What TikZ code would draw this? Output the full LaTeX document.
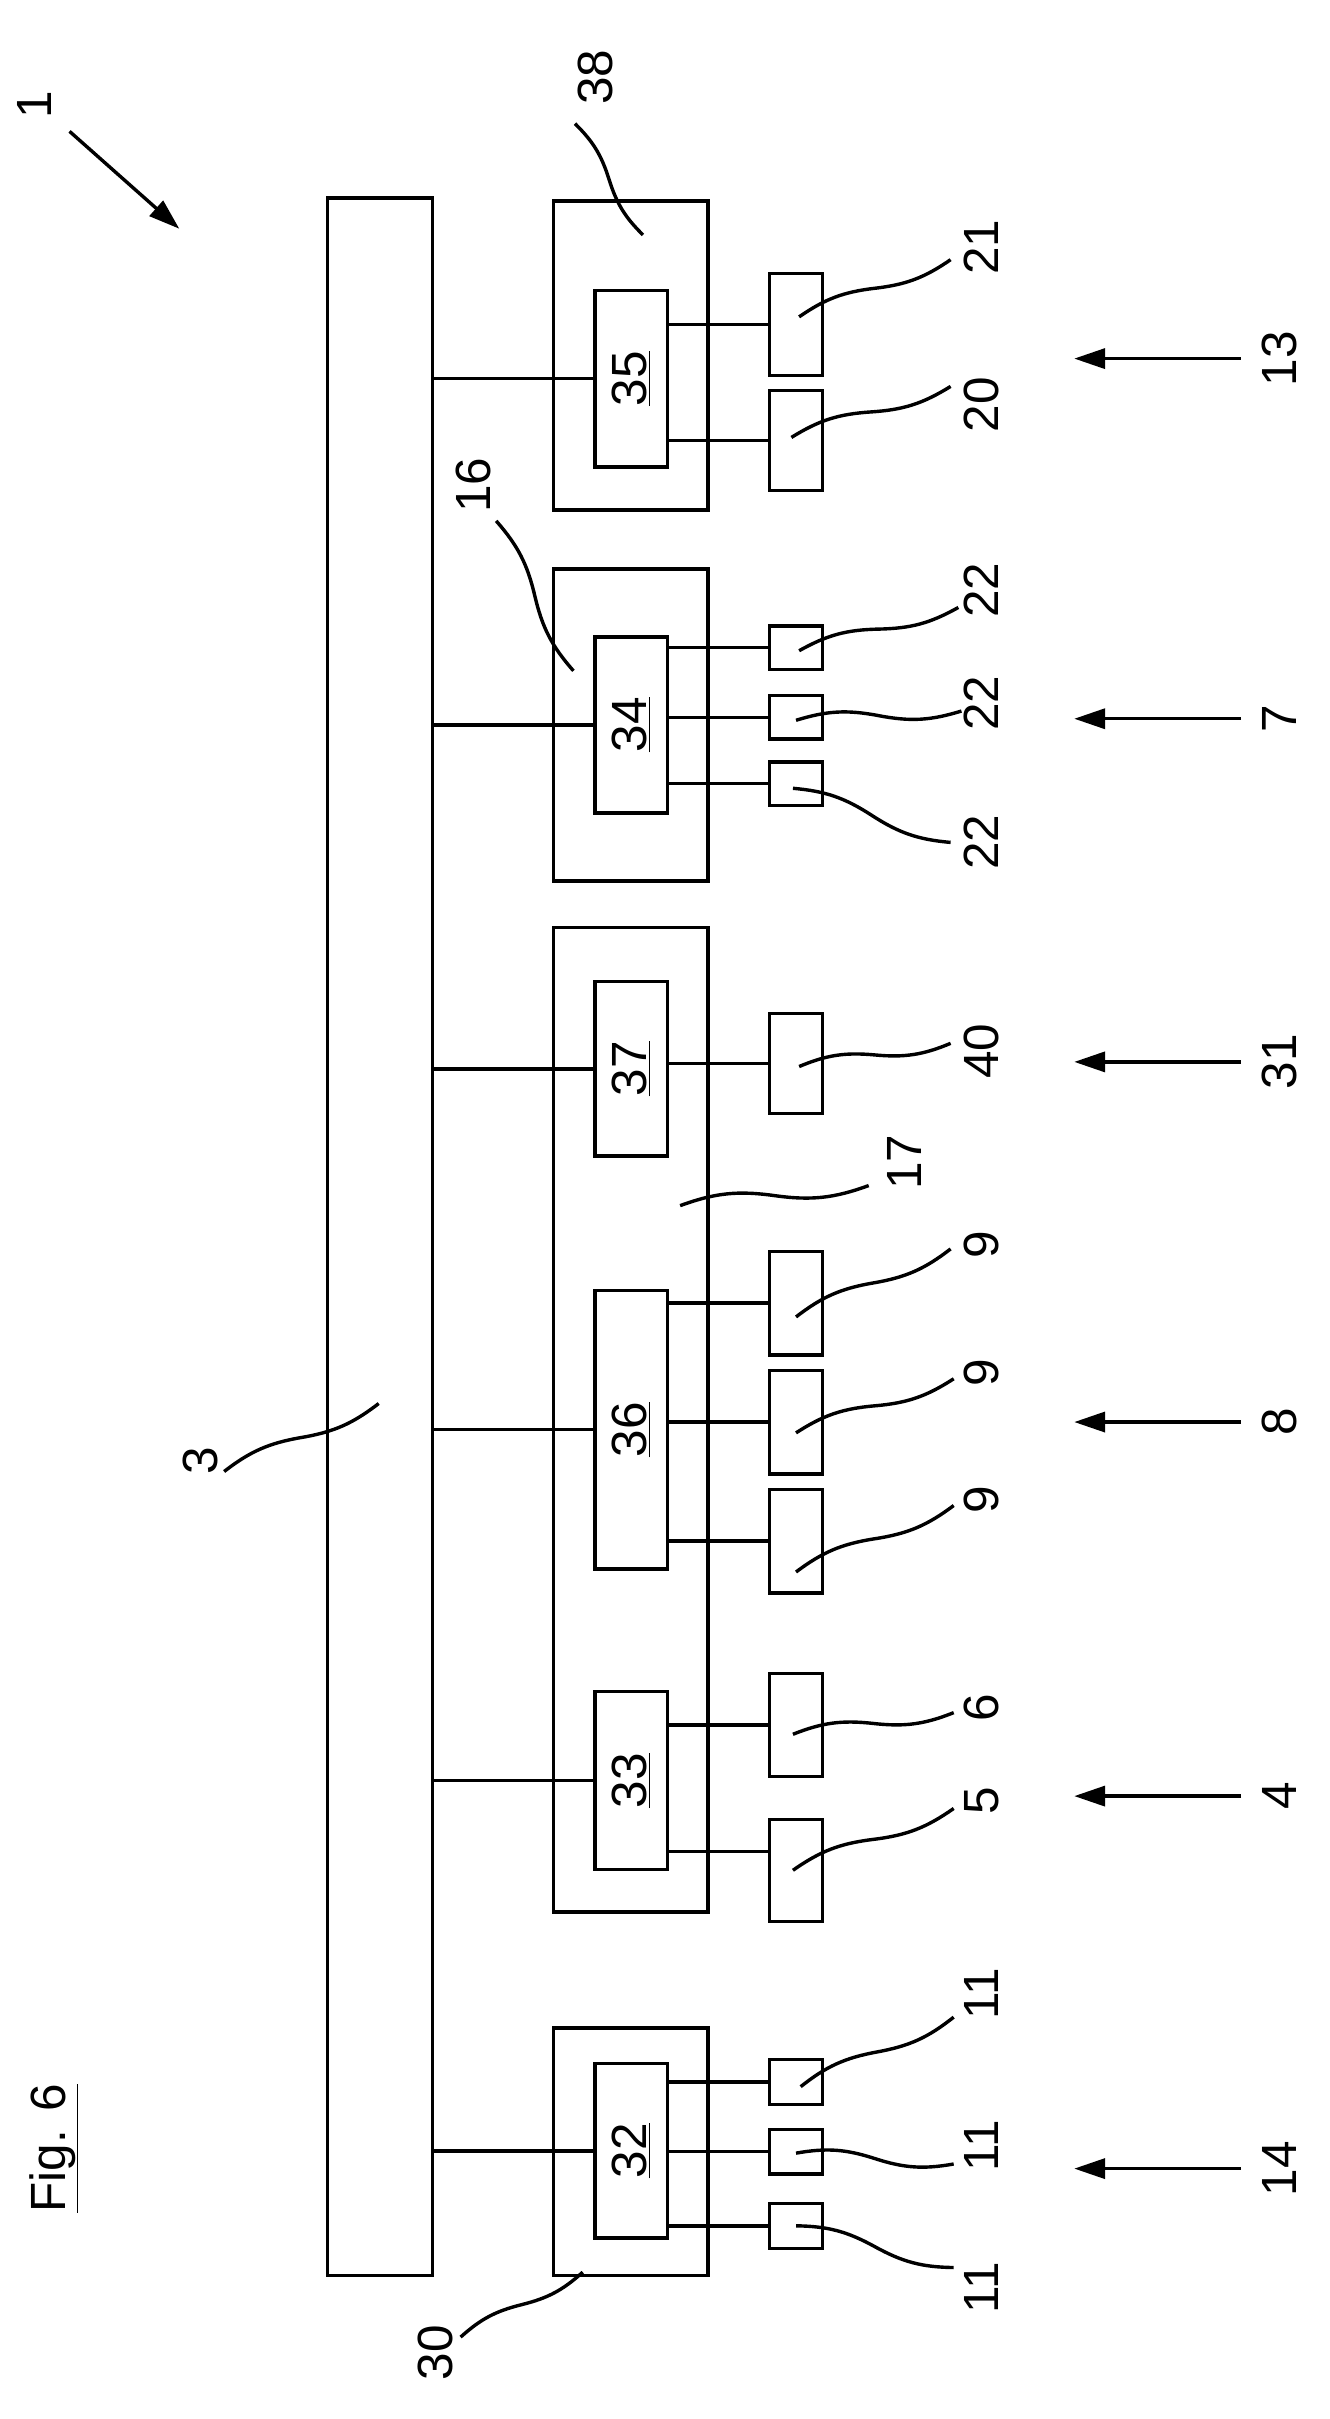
\documentclass[tikz,border=0pt]{standalone}
\usepackage{fontspec}
\setmainfont{Liberation Sans}
\usetikzlibrary{arrows.meta}

\tikzset{
  box/.style={draw,line width=2.2pt,inner sep=0pt},
  lbl/.style={rotate=90,font=\fontsize{32}{38}\selectfont,inner sep=1pt},
  lead/.style={line width=2.2pt},
  arr/.style={line width=2.2pt,-{Triangle[length=20pt,width=13pt]}},
}
% leader with a small wiggle
\newcommand{\wig}[2]{\draw[lead] (#1) to[bend left=14] ($(#1)!0.5!(#2)$) to[bend right=14] (#2);}
\usetikzlibrary{calc}

\begin{document}
\begin{tikzpicture}[x=1pt,y=-1pt,line width=2.2pt]
 \useasboundingbox (0,0) rectangle (860,1565);
 % bus
 \node[box,minimum width=68,minimum height=1344] (bus) at (246,800) {};
 % modules
 \node[box,minimum width=100,minimum height=200] (m38) at (408,230) {};
 \node[box,minimum width=100,minimum height=202] (m16) at (408,469) {};
 \node[box,minimum width=100,minimum height=637] (m17) at (408,918.5) {};
 \node[box,minimum width=100,minimum height=160] (m30) at (408,1392) {};
 % controllers
 \node[box,minimum width=47,minimum height=114] (n35) at (408.5,245) {\rotatebox{90}{\fontsize{32}{38}\selectfont\underline{35}}};
 \node[box,minimum width=47,minimum height=114] (n34) at (408.5,469) {\rotatebox{90}{\fontsize{32}{38}\selectfont\underline{34}}};
 \node[box,minimum width=47,minimum height=113] (n37) at (408.5,691.5) {\rotatebox{90}{\fontsize{32}{38}\selectfont\underline{37}}};
 \node[box,minimum width=47,minimum height=180] (n36) at (408.5,925) {\rotatebox{90}{\fontsize{32}{38}\selectfont\underline{36}}};
 \node[box,minimum width=47,minimum height=115] (n33) at (408.5,1152) {\rotatebox{90}{\fontsize{32}{38}\selectfont\underline{33}}};
 \node[box,minimum width=47,minimum height=113] (n32) at (408.5,1391.5) {\rotatebox{90}{\fontsize{32}{38}\selectfont\underline{32}}};
 % devices
 \node[box,minimum width=34,minimum height=66] (b21) at (515,210) {};
 \node[box,minimum width=34,minimum height=65] (b20) at (515,285) {};
 \node[box,minimum width=34,minimum height=28] (b22a) at (515,419) {};
 \node[box,minimum width=34,minimum height=28] (b22b) at (515,464) {};
 \node[box,minimum width=34,minimum height=28] (b22c) at (515,507) {};
 \node[box,minimum width=34,minimum height=65] (b40) at (515,688) {};
 \node[box,minimum width=34,minimum height=67] (b9a) at (515,843) {};
 \node[box,minimum width=34,minimum height=67] (b9b) at (515,920) {};
 \node[box,minimum width=34,minimum height=67] (b9c) at (515,997) {};
 \node[box,minimum width=34,minimum height=67] (b6) at (515,1116) {};
 \node[box,minimum width=34,minimum height=66] (b5) at (515,1210) {};
 \node[box,minimum width=34,minimum height=29] (b11a) at (515,1347) {};
 \node[box,minimum width=34,minimum height=29] (b11b) at (515,1392) {};
 \node[box,minimum width=34,minimum height=29] (b11c) at (515,1440) {};
 % bus lines
 \foreach \n in {n35,n34,n37,n36,n33,n32}
   \draw (bus.east |- \n.west) -- (\n.west);
 % device lines
 \foreach \n/\b in {n35/b21,n35/b20,n34/b22a,n34/b22b,n34/b22c,n37/b40,n36/b9a,n36/b9b,n36/b9c,n33/b6,n32/b11a,n32/b11b,n32/b11c}
   \draw (\n.east |- \b.west) -- (\b.west);
 \coordinate (c5) at ($(n33.east)+(0,46)$);
 \draw (c5) -- (c5 -| b5.west);
 % reference numerals
 \node[lbl] (l1) at (22,68) {1};
 \coordinate (a1) at (45,85); \coordinate (e1) at (116,148);
 \draw[arr] (a1) -- (e1);
 \node[lbl] (l38) at (385,50) {38};  \wig{416,152}{372,80}
 \node[lbl] (l16) at (306,314) {16};  \wig{371,434}{321,337}
 \node[lbl] (l3) at (130,945) {3};    \wig{245,908}{145,952}
 \node[lbl] (l17) at (585,752) {17};  \wig{440,780}{562,767}
 \node[lbl] (l30) at (282,1522) {30}; \wig{377,1470}{298,1512}
 \node[lbl] (l21) at (635,160) {21};  \wig{517,205}{615,168}
 \node[lbl] (l20) at (635,262) {20};  \wig{512,283}{615,250}
 \node[lbl] (l22a) at (635,382) {22}; \wig{517,421}{620,393}
 \node[lbl] (l22b) at (635,455) {22}; \wig{515,466}{622,460}
 \node[lbl] (l22c) at (635,545) {22}; \wig{513,510}{615,545}
 \node[lbl] (l40) at (635,680) {40};  \wig{517,690}{615,675}
 \node[lbl] (l9a) at (635,805) {9};   \wig{515,852}{615,808}
 \node[lbl] (l9b) at (635,888) {9};   \wig{515,927}{617,892}
 \node[lbl] (l9c) at (635,970) {9};   \wig{515,1017}{617,974}
 \node[lbl] (l6) at (635,1105) {6};   \wig{513,1122}{617,1108}
 \node[lbl] (l5) at (635,1165) {5};   \wig{513,1210}{617,1170}
 \node[lbl] (l11a) at (635,1290) {11}; \wig{518,1350}{617,1305}
 \node[lbl] (l11b) at (635,1388) {11}; \wig{515,1393}{617,1400}
 \node[lbl] (l11c) at (635,1480) {11}; \wig{515,1440}{617,1467}
 % group arrows
 \foreach \t/\y in {13/232,7/465,31/687,8/920,4/1162,14/1403}{
   \node[lbl] (g\t) at (828,\y) {\t};
   \draw[arr] (g\t.north) ++(-12,0) coordinate (s\t) -- (s\t -| 695,0);
 }
 \node[lbl] (fig) at (35,1390) {\underline{Fig. 6}};
\end{tikzpicture}
\end{document}
